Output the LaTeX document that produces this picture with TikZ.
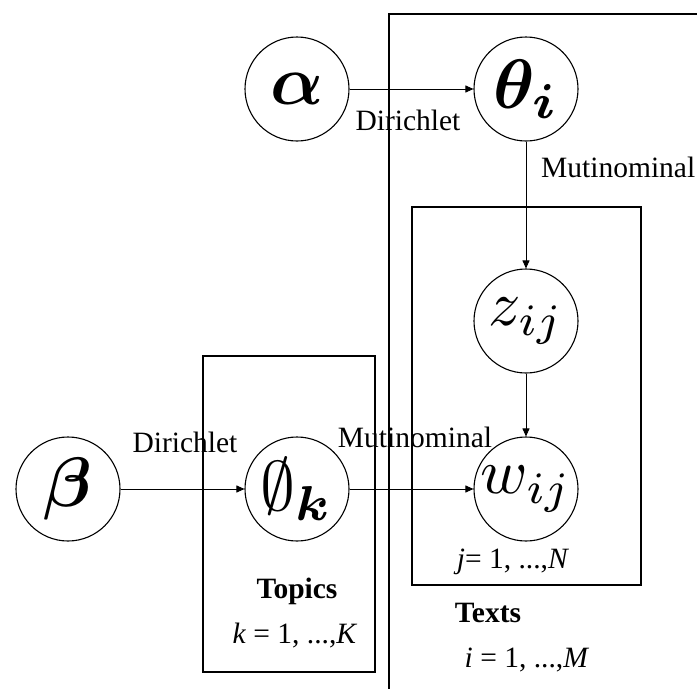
\documentclass[tikz,border=0pt]{standalone}
\usepackage{bm}
\usepackage{fontspec}
\setmainfont{Liberation Serif}
\usetikzlibrary{arrows.meta}
\newcommand{\bigsym}[1]{\scalebox{7}{$#1$}}
\newcommand{\midsym}[1]{\scalebox{6.4}{$#1$}}
\tikzset{
  var/.style={circle,draw,line width=1.1pt,minimum size=104pt,inner sep=0pt},
  plate/.style={draw,line width=1.3pt},
  conn/.style={line width=0.9pt,-{Triangle[length=8pt,width=7pt]}},
  lbl/.style={font=\fontsize{29.5}{33}\selectfont,inner sep=0pt,anchor=base},
  blbl/.style={lbl,font=\fontsize{29.5}{33}\selectfont\bfseries}
}
\begin{document}
\begin{tikzpicture}[x=1pt,y=-1pt]
\useasboundingbox (0,0) rectangle (697,689);
% plates
\draw[plate] (697,14) -- (389,14) -- (389,689);
\draw[plate] (412,207) rectangle (641,585);
\draw[plate] (203,356) rectangle (375,672);
% variables
\node[var] (alpha) at (297,89) {\bigsym{\bm{\alpha}}};
\node[var] (theta) at (526,89) {\bigsym{\bm{\theta_i}}};
\node[var] (z) at (526,321) {\midsym{z_{ij}}};
\node[var] (w) at (526,489) {\midsym{w_{ij}}};
\node[var] (beta) at (68,489) {\bigsym{\bm{\beta}}};
\node[var] (phi) at (297,489) {\bigsym{\emptyset_{\bm{k}}}};
% connectors
\draw[conn] (alpha) -- (theta);
\draw[conn] (theta) -- (z);
\draw[conn] (z) -- (w);
\draw[conn] (beta) -- (phi);
\draw[conn] (phi) -- (w);
% labels
\node[lbl] (d1) at (408,130) {Dirichlet};
\node[lbl,anchor=base west] (m1) at (541,177) {Mutinominal};
\node[lbl] (d2) at (185,452) {Dirichlet};
\node[lbl] (m2) at (415,447) {Mutinominal};
\node[lbl] (jn) at (513,568) {\textit{j}= 1, ...,\textit{N}};
\node[blbl] (texts) at (488,622) {Texts};
\node[lbl] (im) at (527,667) {\textit{i} = 1, ...,\textit{M}};
\node[blbl] (topics) at (297,598) {Topics};
\node[lbl] (kk) at (295,643) {\textit{k} = 1, ...,\textit{K}};
\end{tikzpicture}
\end{document}
